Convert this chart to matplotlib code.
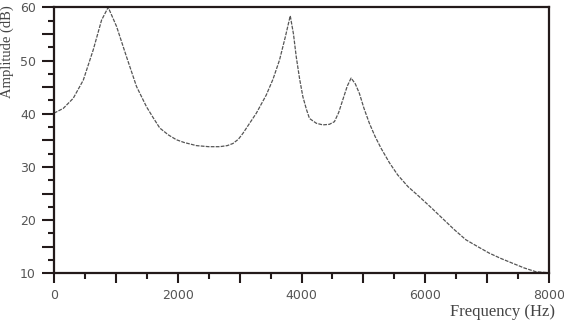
import matplotlib
matplotlib.use("Agg")
import matplotlib.pyplot as plt
from matplotlib.ticker import MultipleLocator

# Data (frequency in Hz, amplitude in dB)
freq_hz = [0, 150, 311, 473, 634, 769, 876, 1011, 1172, 1334, 1495, 1600,
           1710, 1850, 1979, 2100, 2302, 2500, 2678, 2800, 2892, 2980, 3053,
           3150, 3270, 3430, 3540, 3645, 3740, 3818, 3870, 3915, 3970, 4022,
           4080, 4129, 4240, 4344, 4450, 4532, 4600, 4667, 4740, 4802, 4870,
           4936, 5010, 5097, 5190, 5286, 5420, 5554, 5720, 5904, 6100, 6280,
           6470, 6657, 6850, 7033, 7220, 7409, 7600, 7786, 8000]
amp_db = [40.1, 41.0, 42.9, 46.3, 52.0, 57.6, 60.0, 56.4, 50.7, 45.1, 41.3, 39.3,
          37.3, 36.0, 35.1, 34.6, 34.0, 33.8, 33.8, 34.0, 34.4, 35.2, 36.3,
          38.0, 40.1, 43.5, 46.5, 50.1, 54.5, 58.4, 55.0, 50.7, 46.5, 43.2,
          40.8, 39.1, 38.2, 37.9, 38.0, 38.5, 40.2, 42.6, 45.2, 46.7, 45.6,
          43.8, 41.0, 38.2, 35.7, 33.5, 30.8, 28.5, 26.3, 24.4, 22.3, 20.3,
          18.2, 16.3, 15.0, 13.8, 12.8, 11.9, 11.0, 10.3, 10.1]

x_ticks = [0, 1000, 2000, 3000, 4000, 5000, 6000, 7000, 8000]
x_tick_labels = ["0", "", "2000", "", "4000", "", "6000", "", "8000"]
y_ticks = [10, 15, 20, 25, 30, 35, 40, 45, 50, 55, 60]
y_tick_labels = ["10", "", "20", "", "30", "", "40", "", "50", "", "60"]

x_label = "Frequency (Hz)"
y_label = "Amplitude (dB)"

W, H = 564, 323
fig = plt.figure(figsize=(W / 100, H / 100), dpi=100)
ax = fig.add_axes([54 / W, 1 - 273.3 / H, (549 - 54) / W, (273.3 - 7.3) / H])

ax.plot(freq_hz, amp_db, color="#555555", lw=0.9, linestyle=(0, (3, 1)))

ax.set_xlim(0, 8000)
ax.set_ylim(10, 60)

spine_col = "#231a1a"
for s in ax.spines.values():
    s.set_color(spine_col)
    s.set_linewidth(1.6)

ax.set_xticks(x_ticks, labels=x_tick_labels)
ax.set_yticks(y_ticks, labels=y_tick_labels)
ax.xaxis.set_minor_locator(MultipleLocator(500))
ax.yaxis.set_minor_locator(MultipleLocator(2.5))

ax.tick_params(axis="both", which="major", direction="out", color=spine_col,
               width=1.5, labelcolor="#555555", labelsize=9,
               labelfontfamily="DejaVu Sans")
ax.tick_params(axis="y", which="major", length=8.5, pad=4.5)
ax.tick_params(axis="x", which="major", length=7, pad=4.5)
ax.tick_params(axis="y", which="minor", direction="out", color=spine_col,
               width=1.5, length=4.5)
ax.tick_params(axis="x", which="minor", direction="out", color=spine_col,
               width=1.5, length=4)

fig.text(555 / W, 1 - 312 / H, x_label, ha="right", va="center",
         fontsize=12, family="Liberation Serif", color="#444444")
fig.text(7 / W, 1 - 98 / H, y_label, ha="center", va="bottom", rotation=90,
         fontsize=10.5, family="Liberation Serif", color="#444444")

fig.savefig("out.png", dpi=100)
